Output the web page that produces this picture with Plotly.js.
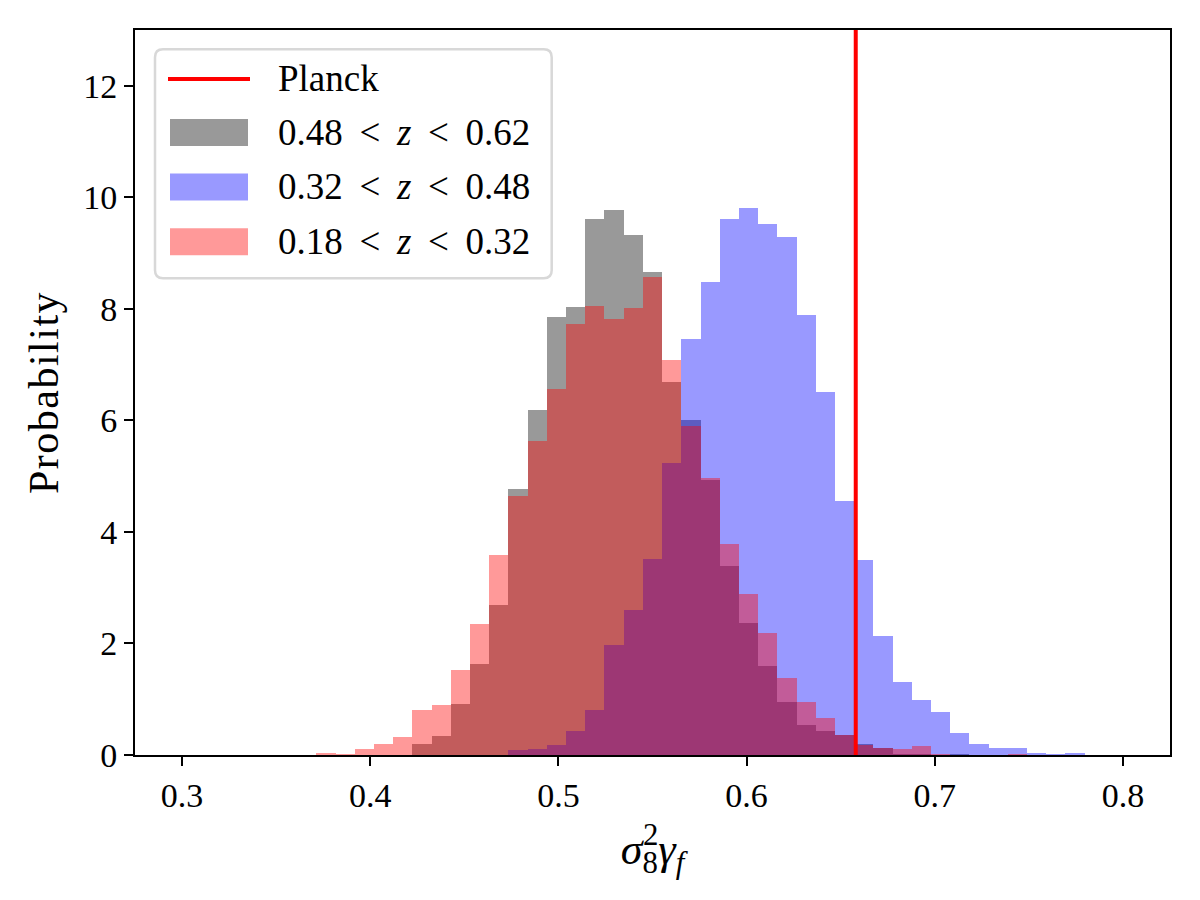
<!DOCTYPE html>
<html>
<head>
<meta charset="utf-8">
<script src="https://cdn.plot.ly/plotly-3.0.1.min.js"></script>
<style>
  body { margin: 0; background: #fff; }
  #chart { width: 1200px; height: 900px; }
</style>
</head>
<body>
<div id="chart"></div>
<script>
// bins: np.linspace(0.3, 0.8, 50) -> 49 bins, only bins 7..46 hold data
var binLo = 0.3;
var binHi = 0.8;
var nBins = 49;
var firstBin = 7;

// probability density per bin
var highZ = [0, 0, 0, 0, 0, 0.20, 0.34, 0.91, 1.63, 2.69,
             4.77, 6.18, 7.85, 8.03, 9.61, 9.78, 9.32, 8.66, 6.68, 6.00,
             4.94, 3.39, 2.37, 1.60, 0.95, 0.54, 0.43, 0.36, 0.20, 0.13,
             0.02, 0.01, 0, 0.02, 0, 0, 0, 0, 0, 0];
var midZ = [0, 0, 0, 0, 0, 0, 0, 0, 0, 0,
            0.09, 0.11, 0.18, 0.43, 0.81, 1.97, 2.60, 3.51, 5.24, 7.46,
            8.48, 9.62, 9.80, 9.52, 9.28, 7.89, 6.51, 4.55, 3.49, 2.13,
            1.31, 0.99, 0.77, 0.40, 0.20, 0.13, 0.13, 0.04, 0.02, 0.04];
var lowZ = [0.04, 0.02, 0.11, 0.20, 0.32, 0.81, 0.90, 1.52, 2.35, 3.58,
            4.65, 5.63, 6.56, 7.72, 8.06, 7.81, 8.01, 8.57, 7.08, 5.90,
            4.97, 3.78, 2.89, 2.19, 1.38, 0.95, 0.66, 0.35, 0.18, 0.13,
            0.11, 0.16, 0.02, 0, 0, 0, 0.02, 0, 0, 0];

var planck = 0.658;

var lt = "\u2009&lt;\u2009";
var labels = ["Planck",
              "0.48 " + lt + " <i>z</i> " + lt + " 0.62",
              "0.32 " + lt + " <i>z</i> " + lt + " 0.48",
              "0.18 " + lt + " <i>z</i> " + lt + " 0.32"];
var colors = ["rgb(255,0,0)", "rgba(0,0,0,0.4)", "rgba(0,0,255,0.4)", "rgba(255,0,0,0.4)"];

var binW = (binHi - binLo) / nBins;
var centers = highZ.map(function (v, i) { return binLo + (firstBin + i + 0.5) * binW; });

function histTrace(vals, color, name) {
    return {
        type: "bar",
        x: centers,
        y: vals,
        width: binW,
        name: name,
        marker: { color: color, line: { width: 0 } },
        hoverinfo: "skip",
        showlegend: false
    };
}

var data = [
    histTrace(highZ, colors[1], labels[1]),
    histTrace(midZ, colors[2], labels[2]),
    histTrace(lowZ, colors[3], labels[3])
];

var font = "'Liberation Serif', 'DejaVu Serif', serif";

// hand-made legend box in paper coordinates (matplotlib style)
function px(x) { return (x - 135) / 1035; }
function py(y) { return (755 - y) / 725; }

function roundBox(x0, y0, x1, y1, r) {
    var rx = r / 1035, ry = r / 725;
    var a = px(x0), b = px(x1), t = py(y0), u = py(y1);
    return "M " + (a + rx) + "," + t +
        " L " + (b - rx) + "," + t + " Q " + b + "," + t + " " + b + "," + (t - ry) +
        " L " + b + "," + (u + ry) + " Q " + b + "," + u + " " + (b - rx) + "," + u +
        " L " + (a + rx) + "," + u + " Q " + a + "," + u + " " + a + "," + (u + ry) +
        " L " + a + "," + (t - ry) + " Q " + a + "," + t + " " + (a + rx) + "," + t + " Z";
}

var rowY = [79, 132.5, 187, 241.7];

var shapes = [
    {
        type: "line", xref: "x", yref: "paper",
        x0: planck, x1: planck, y0: 0, y1: 1,
        line: { color: colors[0], width: 4 }, layer: "above"
    },
    {
        type: "path", xref: "paper", yref: "paper",
        path: roundBox(155, 49.3, 551.7, 278.3, 8),
        fillcolor: "rgba(255,255,255,0.8)",
        line: { color: "rgb(216,216,216)", width: 2.5 }, layer: "above"
    },
    {
        type: "line", xref: "paper", yref: "paper",
        x0: px(168), x1: px(250), y0: py(rowY[0]), y1: py(rowY[0]),
        line: { color: colors[0], width: 4 }, layer: "above"
    }
];
for (var i = 1; i < 4; i++) {
    shapes.push({
        type: "rect", xref: "paper", yref: "paper",
        x0: px(170), x1: px(248), y0: py(rowY[i] - 13.5), y1: py(rowY[i] + 13.5),
        fillcolor: colors[i], line: { width: 0 }, layer: "above"
    });
}

var annotations = labels.map(function (t, i) {
    return {
        xref: "paper", yref: "paper",
        x: px(276), y: py(rowY[i]),
        xanchor: "left", yanchor: "middle",
        text: t, showarrow: false,
        font: { family: font, size: 37, color: "#000" }
    };
});

var axisCommon = {
    showgrid: false,
    zeroline: false,
    showline: true,
    mirror: true,
    linecolor: "#000",
    linewidth: 2,
    ticks: "outside",
    ticklen: 9,
    tickwidth: 2,
    tickcolor: "#000",
    tickfont: { family: font, size: 34, color: "#000" }
};

var layout = {
    width: 1200,
    height: 900,
    margin: { l: 135, r: 30, t: 30, b: 145 },
    paper_bgcolor: "#fff",
    plot_bgcolor: "#fff",
    barmode: "overlay",
    bargap: 0,
    showlegend: false,
    xaxis: Object.assign({}, axisCommon, {
        range: [0.275, 0.825],
        tickvals: [0.3, 0.4, 0.5, 0.6, 0.7, 0.8],
        tickformat: ".1f",
        title: {
            text: "<i>σ</i><sub><span style=\"letter-spacing:-15px\">8</span></sub><sup>2</sup><i>γ</i><sub><i>f</i></sub>",
            font: { family: font, size: 44, color: "#000" },
            standoff: 20
        }
    }),
    yaxis: Object.assign({}, axisCommon, {
        range: [0, 13],
        tickvals: [0, 2, 4, 6, 8, 10, 12],
        title: {
            text: "<span style=\"letter-spacing:1.5px\">Probability</span>",
            font: { family: font, size: 42, color: "#000" },
            standoff: 12
        }
    }),
    shapes: shapes,
    annotations: annotations
};

Plotly.newPlot("chart", data, layout, { displayModeBar: false, staticPlot: true });
</script>
</body>
</html>
